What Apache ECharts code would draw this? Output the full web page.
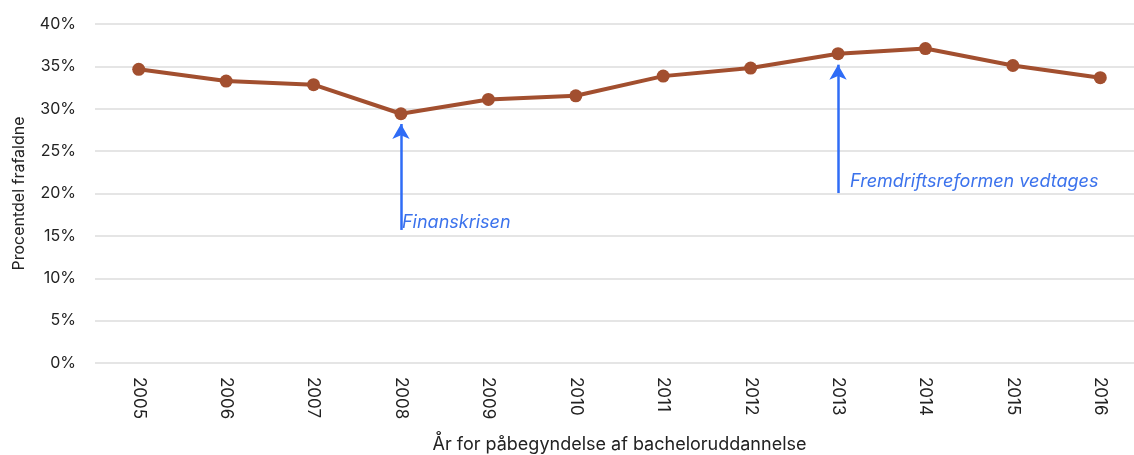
<!DOCTYPE html>
<html><head><meta charset="utf-8">
<script src="https://cdn.jsdelivr.net/npm/echarts@6/dist/echarts.min.js"></script>
<style>html,body{margin:0;padding:0;background:#fff;overflow:hidden}#c{width:1134px;height:455px}</style>
</head><body><div id="c"></div>
<script>
const years = ['2005','2006','2007','2008','2009','2010','2011','2012','2013','2014','2015','2016'];
const dropout = [34.65, 33.27, 32.84, 29.41, 31.1, 31.53, 33.85, 34.8, 36.5, 37.1, 35.1, 33.67];
const yTicks = [0, 5, 10, 15, 20, 25, 30, 35, 40];
const annYears = ['2008', '2013'];
const annFrom = [15.7, 20.05];
const annTo = [28.2, 35.2];
const annText = ['Finanskrisen', 'Fremdriftsreformen vedtages'];
const annTextValue = [16.6, 21.4];

const FONT = 'Inter, "DejaVu Sans", sans-serif';
const chart = echarts.init(document.getElementById('c'));
chart.setOption({
  animation: false,
  textStyle: {fontFamily: FONT},
  grid: {left: 95, top: 24, width: 1049, height: 339, outerBoundsMode: 'none', containLabel: false},
  xAxis: {
    type: 'category', data: years, boundaryGap: true,
    axisLine: {show: false}, axisTick: {show: false},
    axisLabel: {rotate: -90, color: '#222', fontSize: 17, fontFamily: FONT, margin: 14},
    name: 'År for påbegyndelse af bacheloruddannelse', nameLocation: 'middle', nameGap: 73,
    nameTextStyle: {color: '#222', fontSize: 18, fontFamily: FONT}
  },
  yAxis: {
    type: 'value', min: yTicks[0], max: yTicks[yTicks.length - 1], interval: 5,
    axisLine: {show: false}, axisTick: {show: false},
    axisLabel: {formatter: '{value}%', color: '#222', fontSize: 16, fontFamily: FONT, margin: 19},
    splitLine: {lineStyle: {color: '#dcdcdc', width: 1.5}},
    name: 'Procentdel frafaldne', nameLocation: 'middle', nameGap: 68,
    nameTextStyle: {color: '#222', fontSize: 16, fontFamily: FONT}
  },
  series: [{
    type: 'line', data: dropout, symbol: 'circle', symbolSize: 13,
    lineStyle: {color: '#a24f2f', width: 4}, itemStyle: {color: '#a24f2f'},
    z: 3,
    markLine: {
      silent: true, symbol: ['none', 'arrow'], symbolSize: [13, 15],
      lineStyle: {color: '#2f6cf6', width: 2.5, type: 'solid'},
      label: {show: false},
      data: annYears.map((y, i) => [{coord: [y, annFrom[i]]}, {coord: [y, annTo[i]]}])
    },
    markPoint: {
      silent: true, symbol: 'circle', symbolSize: 0,
      label: {show: true, position: 'right', distance: 0, color: '#3b72ec', fontStyle: 'italic',
        fontSize: 18, fontFamily: FONT, formatter: p => p.name},
      data: annYears.map((y, i) => ({name: annText[i], coord: [y, annTextValue[i]],
        label: {offset: [i === 0 ? 1 : 12, 0]}}))
    }
  }]
});
</script></body></html>
